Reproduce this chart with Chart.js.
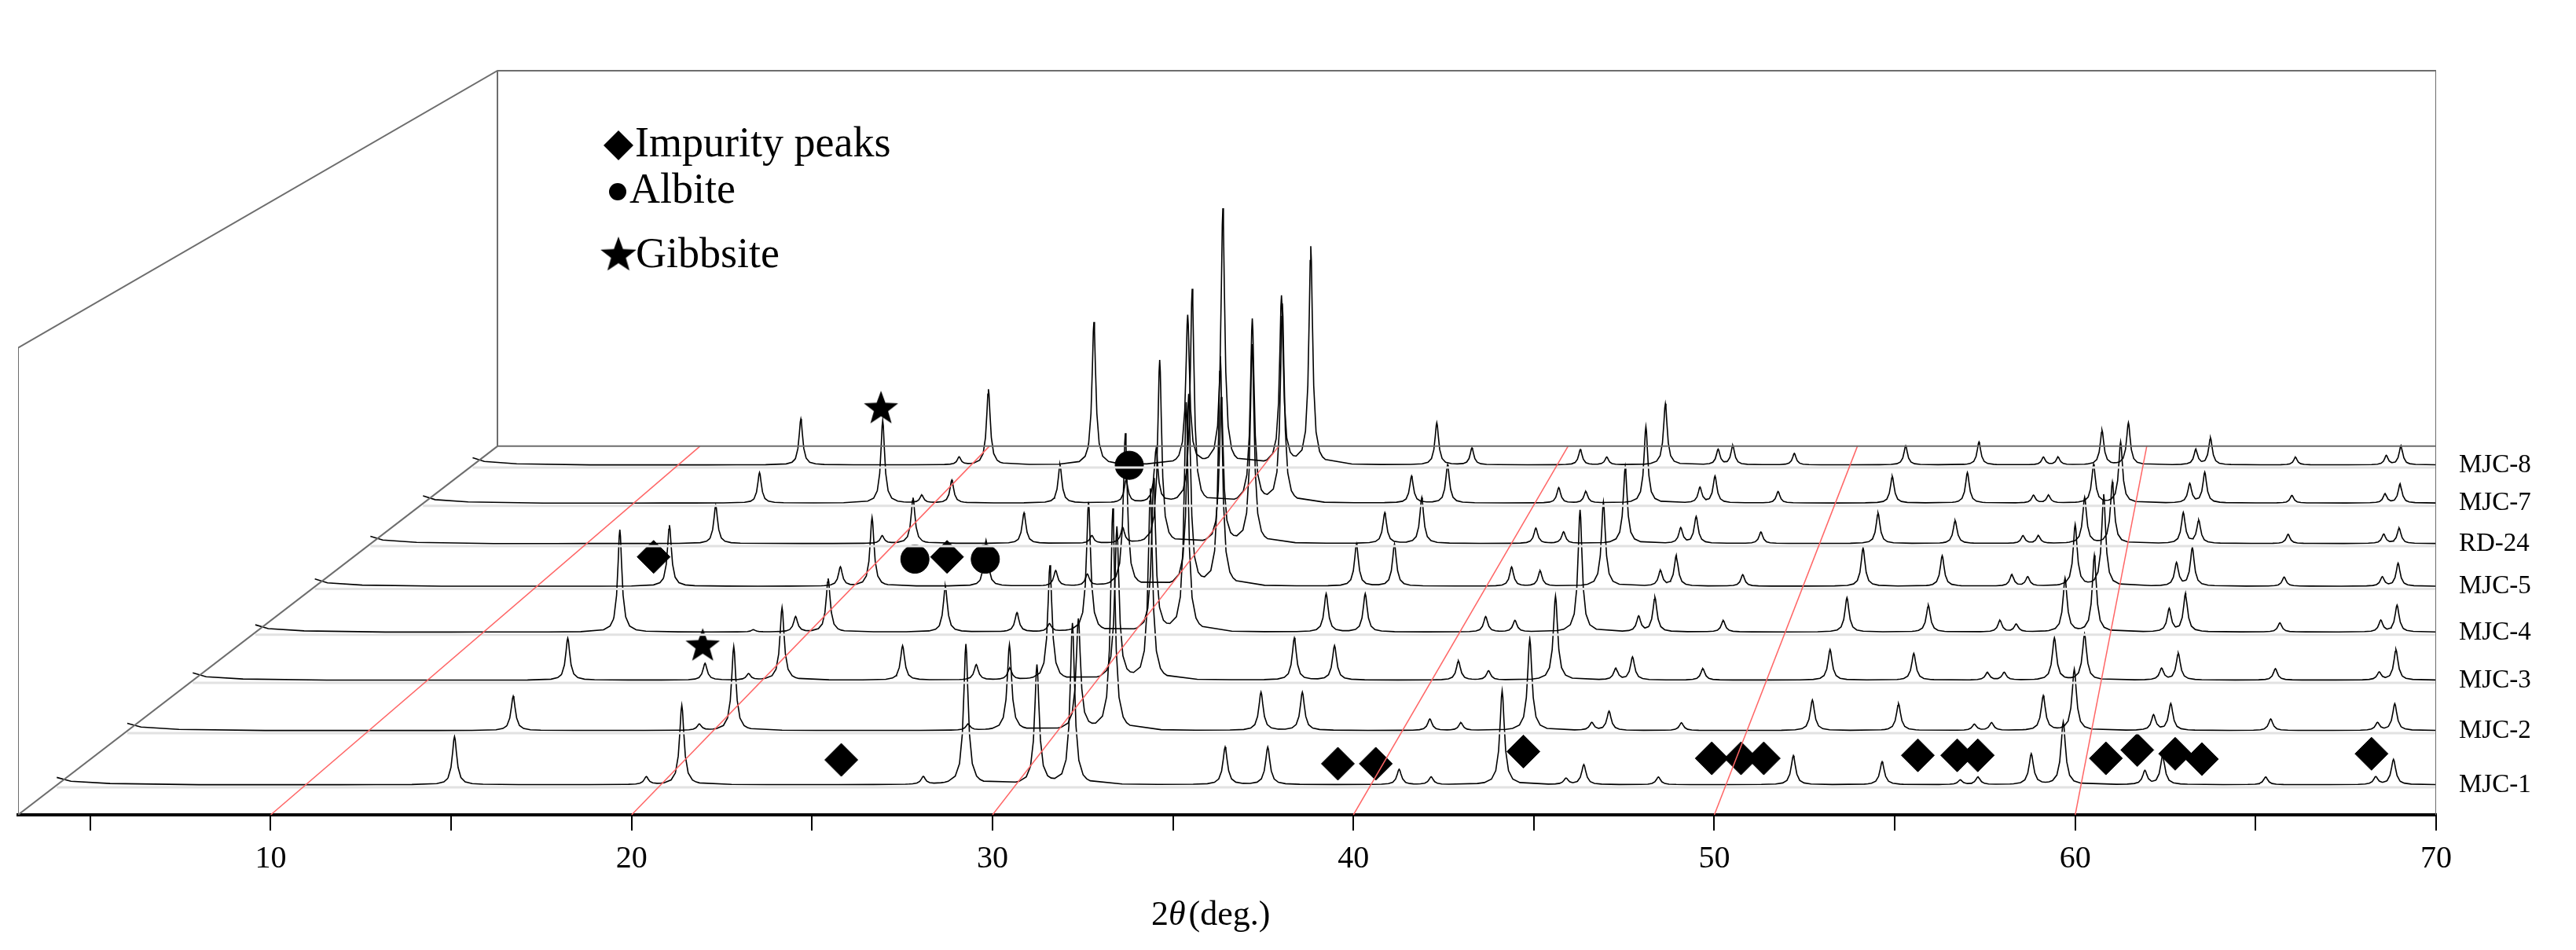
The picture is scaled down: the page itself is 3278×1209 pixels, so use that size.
<!DOCTYPE html>
<html><head><meta charset="utf-8">
<script src="https://cdn.jsdelivr.net/npm/chart.js@4"></script>
<style>html,body{margin:0;padding:0;background:#fff}#wrap{width:3278px;height:1209px}</style>
</head><body><div id="wrap"><canvas id="c" width="3278" height="1209"></canvas></div>
<script>
// ---- data ----
const seriesNames = ["MJC-1","MJC-2","MJC-3","MJC-4","MJC-5","RD-24","MJC-7","MJC-8"];
const peakPositions = [14.2,18.3,19.6,20.6,24.2,26.4,27.4,28.6,30.6,31.6,35.9,37.1,40.8,41.7,43.7,45.5,46.0,48.1,51.9,54.4,56.6,57.1,58.6,59.5,61.8,62.3,65.2,68.3,68.8];
const hMJC1 = [63,0,10,104,0,0,10,184,156,211,49,49,20,10,123,8,26,10,38,30,6,10,40,82,18,38,10,10,33];
const hMJC2 = [45,0,8,110,0,0,8,112,145,290,50,50,15,10,120,10,25,10,40,35,8,10,45,80,20,35,15,10,35];
const hMJC3 = [55,22,8,95,45,20,15,150,200,250,55,45,25,12,110,15,30,15,40,35,10,10,55,60,15,35,15,10,40];
const hMJC4 = [134,3,20,70,60,25,10,170,200,300,50,50,20,15,160,20,45,15,45,35,15,10,70,100,30,50,12,15,35];
const hMJC5 = [80,0,25,90,60,20,15,200,250,300,55,55,25,20,110,20,40,15,50,40,15,12,80,120,30,50,12,12,30];
const hRD24 = [50,0,10,60,40,10,20,240,190,260,40,60,20,15,100,20,35,15,40,30,10,10,60,80,40,30,12,12,20];
const hMJC7 = [40,108,10,30,50,30,70,280,240,260,35,50,20,15,100,20,35,15,35,40,10,10,50,80,25,40,10,12,25];
const hMJC8 = [60,0,10,99,187,0,195,335,220,285,55,22,20,10,80,20,25,15,25,30,10,10,45,55,20,35,10,12,25];
const heights = [hMJC1,hMJC2,hMJC3,hMJC4,hMJC5,hRD24,hMJC7,hMJC8];
const xTickValues = [5,10,15,20,25,30,35,40,45,50,55,60,65,70];
const refLines2theta = [10,20,30,40,50,60];
// marker positions (axis units: x = 2θ on the front axis, y = height units)
const impurityX = [25.81,39.57,40.62,44.71,49.93,50.74,51.37,55.64,56.73,57.30,60.85,61.72,62.77,63.51,68.21,20.61,28.74];
const impurityY = [72,67,67,83,74,74,74,78,78,78,74,85,80,73,80,338,338];
const albiteX = [27.85,29.80,33.79];
const albiteY = [335,335,458];
const gibbsiteX = [26.91,21.97];
const gibbsiteY = [533,222];

// ---- layout ----
const baseY = [39,110,176,239,299,355,408,458];
const DEPTH = 483;
const D = 610/45.925;
function xf(v,t){ return 3 + D*t + (v-3)*(1 - D*t/67); }
function profile(i){
  const t = baseY[i]/DEPTH, h = heights[i], w = 0.075;
  let xs = [3,3.4,4.5,7];
  for(let v=8; v<=70; v+=1) xs.push(v);
  peakPositions.forEach((p,k)=>{ if(h[k]>0) [-0.5,-0.3,-0.18,-0.1,-0.05,-0.02,0,0.02,0.05,0.1,0.18,0.3,0.5].forEach(o=>xs.push(p+o)); });
  xs = xs.filter(x=>x>=3&&x<=70).sort((a,b)=>a-b);
  const lift = x => x<3.4?10-(x-3)*12.5 : x<4.5?5-(x-3.4)*2.7 : x<7?2-(x-4.5)*0.6:0.5;
  return xs.map(x=>{ let y=lift(x); peakPositions.forEach((p,k)=>{ y += h[k]/(1+((x-p)/w)**2); }); return {x:xf(x,t), y:baseY[i]+y}; });
}
const ds = [];
const frame = (pts,color,wd)=>ds.push({type:'line',data:pts,borderColor:color,borderWidth:wd,pointRadius:0,fill:false,tension:0});
const backL = xf(3,1), fr = 70;
frame([{x:3,y:612},{x:3,y:0}],'#6d6d6d',2);
frame([{x:3,y:612},{x:backL,y:975},{x:fr,y:975},{x:fr,y:0}],'#6d6d6d',2);
frame([{x:backL,y:975},{x:backL,y:DEPTH},{x:fr,y:DEPTH}],'#6d6d6d',2);
frame([{x:3,y:0},{x:backL,y:DEPTH}],'#6d6d6d',2);
refLines2theta.forEach(v=>frame([{x:v,y:0},{x:xf(v,1),y:DEPTH}],'#ff6666',1.5));
baseY.forEach((b,i)=>frame([{x:xf(3,b/DEPTH),y:b-3},{x:70,y:b-3}],'#e2e2e2',3));
for(let i=7;i>=0;i--) ds.push({type:'line',data:profile(i),borderColor:'#000',borderWidth:1.6,pointRadius:0,fill:false,tension:0});
const star = document.createElement('canvas'); star.width=46; star.height=46;
{const g=star.getContext('2d'); g.fillStyle='#000'; g.beginPath();
 for(let k=0;k<10;k++){const r=k%2?9.5:23, a=-Math.PI/2+k*Math.PI/5; g.lineTo(23+r*Math.cos(a),24+r*Math.sin(a));} g.closePath(); g.fill();}
ds.push({type:'scatter',data:impurityX.map((x,k)=>({x,y:impurityY[k]})),pointStyle:'rectRot',pointRadius:21,backgroundColor:'#000',borderColor:'#000'});
ds.push({type:'scatter',data:albiteX.map((x,k)=>({x,y:albiteY[k]})),pointStyle:'circle',pointRadius:18,backgroundColor:'#000',borderColor:'#000'});
ds.push({type:'scatter',data:gibbsiteX.map((x,k)=>({x,y:gibbsiteY[k]})),pointStyle:star,backgroundColor:'#000'});

const extras = {id:'extras', afterDraw(c){
  const g=c.ctx, ys=c.scales.y;
  g.save(); g.fillStyle='#000'; g.textBaseline='middle';
  g.font='33px "Liberation Serif"';
  seriesNames.forEach((n,i)=>g.fillText(n,3129,ys.getPixelForValue(baseY[i])));
  g.font='54px "Liberation Serif"';
  const lx=787;
  g.beginPath(); g.moveTo(lx,166); g.lineTo(lx+19,185); g.lineTo(lx,204); g.lineTo(lx-19,185); g.closePath(); g.fill();
  g.fillText('Impurity peaks',lx+21,185);
  g.beginPath(); g.arc(lx-1,244,11,0,Math.PI*2); g.fill();
  g.fillText('Albite',lx+14,244);
  g.drawImage(star,lx-24,300,48,48);
  g.fillText('Gibbsite',lx+22,326);
  g.font='44px "Liberation Serif"'; g.textAlign='left';
  const tx=1465, ty=1165;
  g.fillText('2',tx,ty); let w=g.measureText('2').width;
  g.font='italic 44px "Liberation Serif"'; g.fillText('θ',tx+w,ty); w+=g.measureText('θ').width;
  g.font='44px "Liberation Serif"'; g.fillText('(deg.)',tx+w+4,ty);
  g.restore();
}};
new Chart(document.getElementById('c'),{
  data:{datasets:ds},
  options:{responsive:false,animation:false,
    layout:{padding:{left:23,right:178,top:0,bottom:80}},
    plugins:{legend:{display:false},tooltip:{enabled:false}},
    scales:{
      x:{type:'linear',min:3,max:70,
        afterBuildTicks:s=>{s.ticks=xTickValues.map(v=>({value:v}));},
        ticks:{autoSkip:false,maxRotation:0,padding:12,color:'#000',font:{family:'Liberation Serif',size:40},callback:v=>v%10===0?String(v):''},
        grid:{drawOnChartArea:false,drawTicks:true,tickLength:20,color:'#000',lineWidth:2},
        border:{display:true,color:'#000',width:4}},
      y:{type:'linear',min:0,max:1045,display:false}
    }},
  plugins:[extras]
});
</script></body></html>
